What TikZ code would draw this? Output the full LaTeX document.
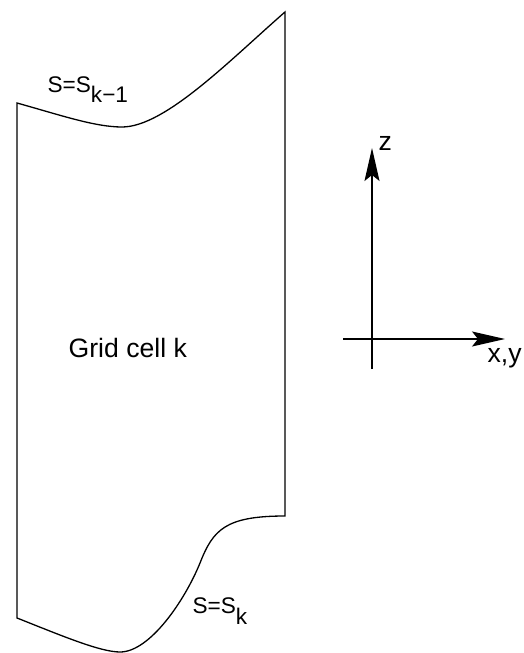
\documentclass[tikz,border=0pt]{standalone}
\usepackage{fontspec}
\setmainfont{Liberation Sans}
\usepackage{tikz}
\usetikzlibrary{arrows.meta, positioning}

\begin{document}
\begin{tikzpicture}[x=0.5pt, y=-0.5pt, line width=0.65pt,
  axis/.style={-{Stealth[length=16.5pt, width=7.5pt, inset=3pt]}},
  biglbl/.style={font=\fontsize{13.3pt}{16pt}\selectfont, inner sep=0pt, anchor=base west},
  slbl/.style={font=\fontsize{11.3pt}{14pt}\selectfont, inner sep=0pt, anchor=base west}]
\useasboundingbox (0,0) rectangle (524,653);
\coordinate (lt) at (17,103);
\coordinate (rt) at (285,12);
\coordinate (rb) at (285,516);
\coordinate (lb) at (17,618);
\draw (lt) .. controls (60,115) and (95,127) .. (122,127)
           .. controls (165,127) and (230,60) .. (rt)
      -- (rb)
      .. controls (225,516) and (213,530) .. (200,563)
      .. controls (185,600) and (150,652) .. (120,652)
      .. controls (100,652) and (60,635) .. (lb)
      -- cycle;
\node[slbl] (sktop) at (47,92) {S=S\raisebox{-5pt}{k−1}};
\node[slbl] (skbot) at (192,613) {S=S\raisebox{-5.5pt}{k}};
\node[biglbl] (cell) at (68,357) {Grid cell k};
\coordinate (zbot) at (372,369);
\coordinate (ztop) at (372,148);
\coordinate (xleft) at (343,339);
\coordinate (xright) at (505,339);
\draw[axis] (zbot) -- (ztop);
\draw[axis] (xleft) -- (xright);
\node[biglbl] (zlbl) at (378,150) {z};
\node[biglbl] (xylbl) at (487,362) {x,y};
\end{tikzpicture}
\end{document}
